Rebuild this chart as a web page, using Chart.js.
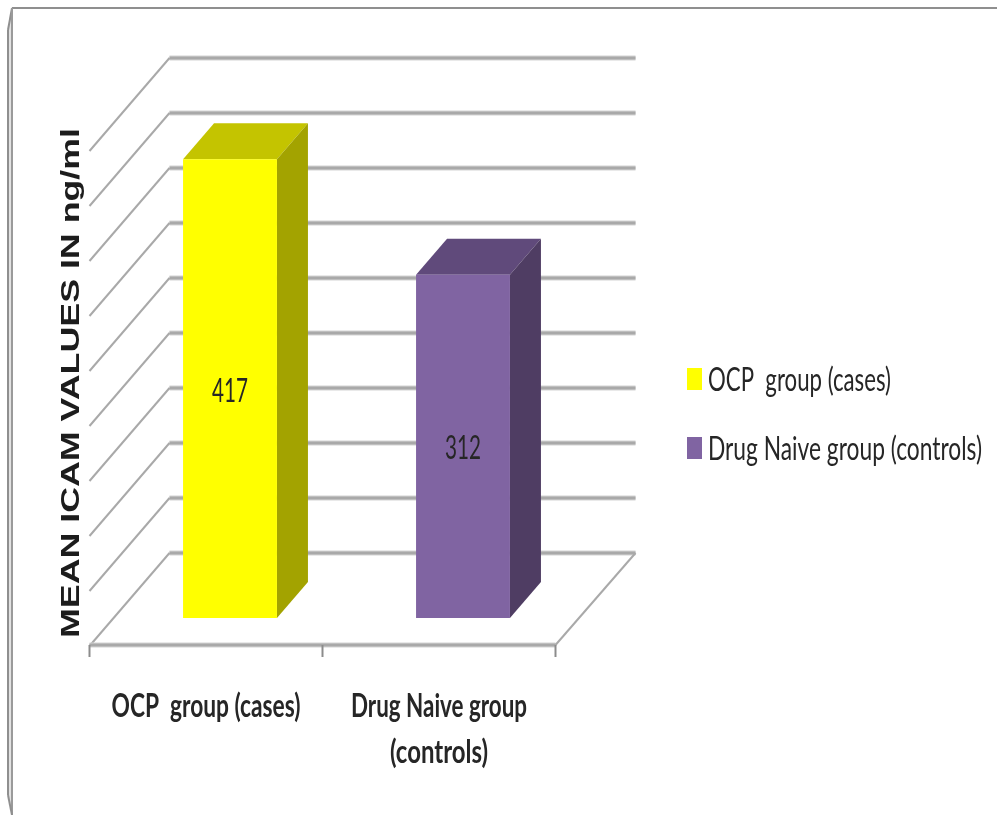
<!DOCTYPE html>
<html>
<head>
<meta charset="utf-8">
<style>
  html, body { margin: 0; padding: 0; background: #fff; }
  canvas { display: block; }
</style>
<script src="https://cdn.jsdelivr.net/npm/chart.js@4/dist/chart.umd.min.js"></script>
</head>
<body>
<canvas id="icamChart" width="997" height="815"></canvas>
<script>
// Data
var categories = ["OCP  group (cases)", "Drug Naive group (controls)"];
var axisLabels = [["OCP  group (cases)"], ["Drug Naive group", "(controls)"]];
var meanIcam = [417, 312];
var axisMax = 450;
var axisStep = 50;
var yTitle = "MEAN ICAM VALUES IN ng/ml";

// Face colours: front, top, side
var frontColors = ["#ffff00", "#8064a2"];
var topColors = ["#c4c400", "#604a7b"];
var sideColors = ["#a3a300", "#4f3d63"];

// 3D offsets, relative to the plane the bars stand on
var wallShift = { x: 56, y: -65 };
var floorFront = { x: -24, y: 27 };
var barDepth = { x: 31, y: -36 };

var gridGray = "#a9a9a9";
var textColor = "#262626";

function line(ctx, x1, y1, x2, y2, color, width) {
  ctx.strokeStyle = color;
  ctx.lineWidth = width;
  ctx.beginPath();
  ctx.moveTo(x1, y1);
  ctx.lineTo(x2, y2);
  ctx.stroke();
}

function softLine(ctx, x1, y1, x2, y2) {
  line(ctx, x1, y1, x2, y2, "#d4d4d4", 5);
  line(ctx, x1, y1, x2, y2, gridGray, 3);
}

function poly(ctx, pts, color) {
  ctx.fillStyle = color;
  ctx.beginPath();
  pts.forEach(function(p, i) {
    if (i === 0) ctx.moveTo(p[0], p[1]); else ctx.lineTo(p[0], p[1]);
  });
  ctx.closePath();
  ctx.fill();
}

// Text squeezed to a given width, the labels here are tall and narrow
function fitText(ctx, text, cx, baseline, width, font, color) {
  ctx.save();
  ctx.font = font;
  ctx.fillStyle = color;
  ctx.textAlign = "center";
  ctx.textBaseline = "alphabetic";
  var w = ctx.measureText(text).width;
  ctx.translate(cx, baseline);
  ctx.scale(width / w, 1);
  ctx.fillText(text, 0, 0);
  ctx.restore();
}

var frame3d = {
  id: "frame3d",
  beforeDatasetsDraw: function(chart) {
    var ctx = chart.ctx, x = chart.scales.x, y = chart.scales.y;
    var left = x.left, right = x.right;
    var zero = y.getPixelForValue(0);

    ctx.save();
    ctx.lineCap = "butt";

    // outer border of the slide
    poly(ctx, [[8, 30], [12, 8], [12, 815], [8, 795]], "#e2e2e2");
    line(ctx, 12, 8, 997, 8, "#8f8f8f", 2);
    line(ctx, 12, 8, 8, 30, "#8f8f8f", 2);
    line(ctx, 8, 30, 8, 795, "#8f8f8f", 2);
    line(ctx, 12, 8, 12, 815, "#9a9a9a", 2);
    line(ctx, 8, 795, 12, 815, "#8f8f8f", 2);

    // back wall lines with their slanted parts on the side wall
    for (var v = 0; v <= axisMax; v += axisStep) {
      var py = y.getPixelForValue(v);
      var wy = py + wallShift.y;
      softLine(ctx, left + wallShift.x, wy, right + wallShift.x, wy);
      line(ctx, left + floorFront.x, py + floorFront.y + 1, left + wallShift.x, wy, gridGray, 2);
    }

    // floor
    softLine(ctx, left + floorFront.x, zero + floorFront.y, right + floorFront.x, zero + floorFront.y);
    line(ctx, right + floorFront.x, zero + floorFront.y, right + wallShift.x, zero + wallShift.y, gridGray, 2);

    // tick marks on the front edge
    for (var i = 0; i <= categories.length; i++) {
      var tx = left + floorFront.x + i * (right - left) / categories.length;
      line(ctx, tx, zero + floorFront.y, tx, zero + floorFront.y + 12, "#8c8c8c", 2);
    }

    // top and side faces of the bars
    var bars = chart.getDatasetMeta(0).data;
    bars.forEach(function(bar, i) {
      var l = bar.x - bar.width / 2, r = bar.x + bar.width / 2;
      var dx = barDepth.x, dy = barDepth.y;
      poly(ctx, [[l, bar.y], [r, bar.y], [r + dx, bar.y + dy], [l + dx, bar.y + dy]], topColors[i]);
      poly(ctx, [[r, bar.y], [r + dx, bar.y + dy], [r + dx, bar.base + dy], [r, bar.base]], sideColors[i]);
    });
    ctx.restore();
  },
  afterDatasetsDraw: function(chart) {
    var ctx = chart.ctx, x = chart.scales.x, y = chart.scales.y;
    var bars = chart.getDatasetMeta(0).data;
    var zero = y.getPixelForValue(0);
    var regular = "33px Lato, 'Liberation Sans'";
    var bold = "bold 33px Lato, 'Liberation Sans'";

    // value labels in the middle of each bar
    bars.forEach(function(bar, i) {
      fitText(ctx, String(meanIcam[i]), bar.x, (bar.y + bar.base) / 2 + 13, 36, regular, textColor);
    });

    // category labels below the front edge
    var labelWidths = [[189], [176, 98]];
    axisLabels.forEach(function(lines, i) {
      var cx = x.getPixelForTick(i) + floorFront.x;
      lines.forEach(function(text, n) {
        fitText(ctx, text, cx, zero + 99 + n * 46, labelWidths[i][n], bold, textColor);
      });
    });

    // axis title
    ctx.save();
    ctx.translate(79, 383);
    ctx.rotate(-Math.PI / 2);
    fitText(ctx, yTitle, 0, 0, 510, "bold 25px 'Liberation Sans'", "#1c1c1c");
    ctx.restore();

    // legend
    var legendRows = [{ top: 368, base: 391, w: 183 }, { top: 437, base: 460, w: 274 }];
    categories.forEach(function(name, i) {
      var row = legendRows[i];
      ctx.fillStyle = frontColors[i];
      ctx.fillRect(687, row.top, 15, 22);
      fitText(ctx, name, 708 + row.w / 2, row.base, row.w, regular, textColor);
    });
  }
};

var ctx = document.getElementById("icamChart");

var icamChart = new Chart(ctx, {
  type: "bar",
  data: {
    labels: categories,
    datasets: [{
      data: meanIcam,
      backgroundColor: frontColors,
      borderWidth: 0,
      barPercentage: 1,
      categoryPercentage: 0.403
    }]
  },
  options: {
    responsive: false,
    animation: false,
    layout: {
      padding: { left: 113.5, right: 417.5, top: 123, bottom: 197 }
    },
    plugins: {
      legend: { display: false },
      tooltip: { enabled: false }
    },
    scales: {
      x: {
        grid: { display: false },
        border: { display: false },
        ticks: { display: false },
        afterFit: function(scale) { scale.height = 0; }
      },
      y: {
        display: false,
        min: 0,
        max: axisMax,
        ticks: { stepSize: axisStep }
      }
    }
  },
  plugins: [frame3d]
});
</script>
</body>
</html>
